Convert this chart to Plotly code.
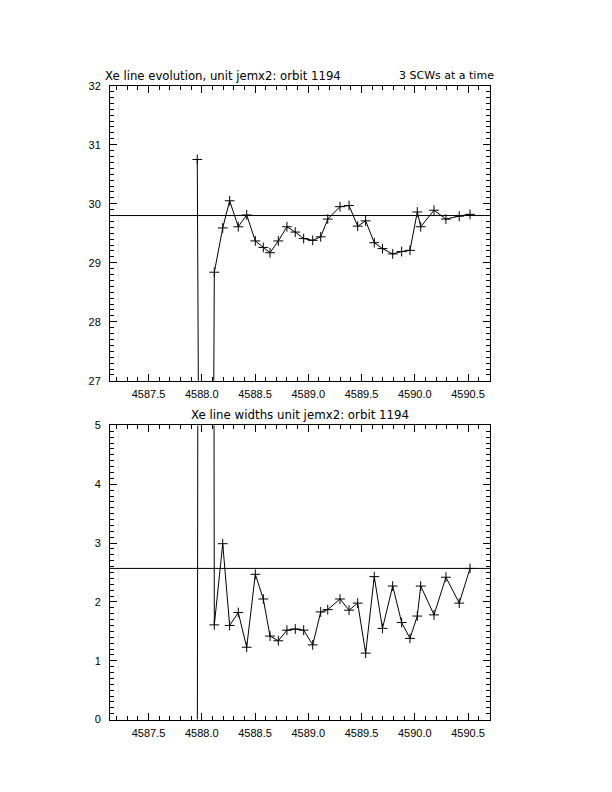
import plotly.graph_objects as go

# ---- data ----
time_x = [4587.958, 4588.038, 4588.118, 4588.197, 4588.262, 4588.343, 4588.422,
          4588.503, 4588.578, 4588.641, 4588.719, 4588.800, 4588.878, 4588.957,
          4589.042, 4589.117, 4589.183, 4589.298, 4589.383, 4589.464, 4589.539,
          4589.620, 4589.697, 4589.793, 4589.877, 4589.955, 4590.024, 4590.056,
          4590.181, 4590.293, 4590.418, 4590.519]

line_energy = [30.75, 0.0, 28.84, 29.59, 30.05, 29.61, 29.81, 29.37, 29.26, 29.17,
               29.37, 29.61, 29.52, 29.41, 29.38, 29.44, 29.74, 29.95, 29.97, 29.62,
               29.71, 29.34, 29.24, 29.15, 29.19, 29.21, 29.86, 29.61, 29.89, 29.74,
               29.79, 29.82]

line_width = [-1.0, 99.0, 1.61, 2.99, 1.60, 1.82, 1.23, 2.47, 2.05, 1.42,
              1.34, 1.52, 1.54, 1.52, 1.27, 1.83, 1.87, 2.05, 1.86, 1.98,
              1.13, 2.43, 1.55, 2.27, 1.65, 1.38, 1.76, 2.27, 1.78, 2.42,
              1.98, 2.57]

energy_ref = 29.80
width_ref = 2.57

x_range = [4587.1385, 4590.7066]
energy_range = [27, 32]
width_range = [0, 5]

title_top_left = "Xe line evolution, unit jemx2: orbit 1194"
title_top_right = "3 SCWs at a time"
title_bottom = "Xe line widths unit jemx2: orbit 1194"

# ---- figure ----
W, H = 612, 792
TICKFONT = dict(family="Liberation Sans", size=11, color="black")
TITLEFONT_L = dict(family="DejaVu Sans", size=11.7, color="black")
TITLEFONT_B = dict(family="DejaVu Sans", size=11.8, color="black")
TITLEFONT_R = dict(family="DejaVu Sans", size=11, color="black")

# page offset compensation (target screen pixel -> layout position)
def px_x(p):
    return (p - 8) / W

def px_y(p):
    yi = (p - 14.5) / 0.9826
    return (H - yi) / H

fig = go.Figure()

marker = dict(symbol="cross-thin", size=7, line=dict(width=1, color="black"), color="black")

fig.add_trace(go.Scatter(x=time_x, y=line_energy, mode="lines+markers",
                         line=dict(color="black", width=1), marker=marker,
                         xaxis="x", yaxis="y", showlegend=False))
fig.add_trace(go.Scatter(x=time_x, y=line_width, mode="lines+markers",
                         line=dict(color="black", width=1), marker=marker,
                         xaxis="x2", yaxis="y2", showlegend=False))

fig.add_shape(type="line", xref="x domain", yref="y", x0=0, x1=1,
              y0=energy_ref, y1=energy_ref, line=dict(color="black", width=1))
fig.add_shape(type="line", xref="x2 domain", yref="y2", x0=0, x1=1,
              y0=width_ref, y1=width_ref, line=dict(color="black", width=1))

common_axis = dict(showline=True, linecolor="black", linewidth=1, mirror="ticks",
                   ticks="inside", ticklen=7, tickwidth=1, tickcolor="black",
                   showgrid=False, zeroline=False, tickfont=TICKFONT)

xdom = [px_x(110), px_x(490)]
xcommon = dict(common_axis, range=x_range, tick0=4587.5, dtick=0.5, tickformat=".1f",
               minor=dict(ticks="inside", ticklen=4, dtick=0.1, tick0=4587.5,
                          tickcolor="black", tickwidth=1, showgrid=False),
               domain=xdom, ticklabelstandoff=3)
ycommon = dict(common_axis, dtick=1,
               minor=dict(ticks="inside", ticklen=4, dtick=0.1,
                          tickcolor="black", tickwidth=1, showgrid=False),
               ticklabelstandoff=6)

fig.update_layout(
    width=W, height=H, autosize=False,
    margin=dict(l=0, r=0, t=0, b=0),
    paper_bgcolor="white", plot_bgcolor="white",
    xaxis=dict(xcommon, anchor="y"),
    yaxis=dict(ycommon, range=energy_range, anchor="x", tick0=27,
               domain=[px_y(380.5), px_y(86)]),
    xaxis2=dict(xcommon, anchor="y2"),
    yaxis2=dict(ycommon, range=width_range, anchor="x2", tick0=0,
                domain=[px_y(718.5), px_y(425)]),
    annotations=[
        dict(text=title_top_left, x=px_x(103), y=px_y(76), xref="paper", yref="paper",
             xanchor="left", yanchor="middle", showarrow=False, font=TITLEFONT_L),
        dict(text=title_top_right, x=px_x(496), y=px_y(76), xref="paper", yref="paper",
             xanchor="right", yanchor="middle", showarrow=False, font=TITLEFONT_R),
        dict(text=title_bottom, x=px_x(300), y=px_y(415), xref="paper", yref="paper",
             xanchor="center", yanchor="middle", showarrow=False, font=TITLEFONT_B),
    ],
)

fig.write_html("out.html")
